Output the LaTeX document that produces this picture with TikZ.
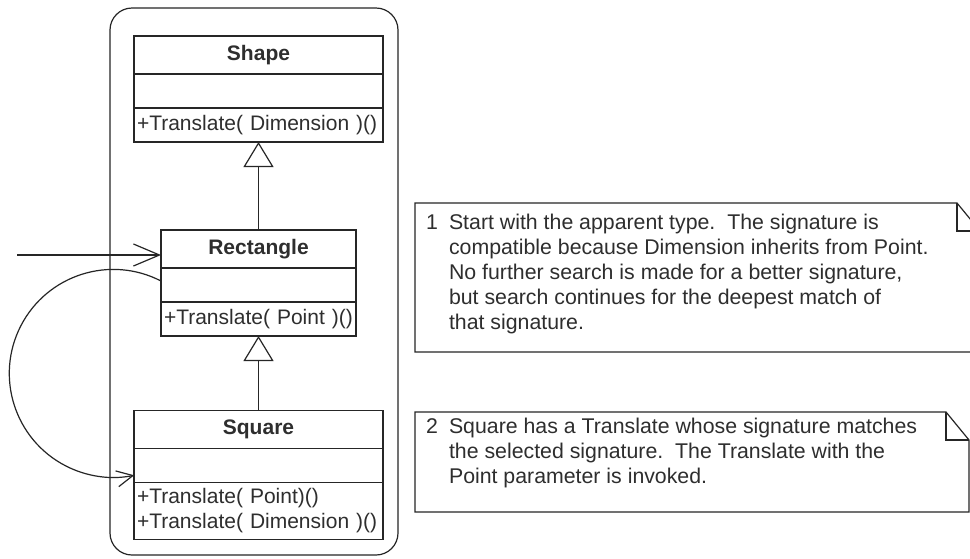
\documentclass[tikz,border=0pt]{standalone}
\usepackage{fontspec}
\setmainfont{Liberation Sans}
\usepackage{tikz}
\usetikzlibrary{arrows.meta,calc,positioning}
\usepackage{xcolor}
\definecolor{UmlInk}{HTML}{262626}
\definecolor{UmlText}{HTML}{2E2E2E}

\tikzset{
    classpart/.style={draw=UmlInk, line width=1.2pt, outer sep=0pt, inner sep=0pt, minimum width=249pt, text=UmlText},
    classname/.style={classpart, minimum height=38pt, font=\fontsize{21}{25}\selectfont\bfseries},
    classattr/.style={classpart, minimum height=34pt},
    classops/.style={classpart, minimum height=34pt, inner xsep=3pt, text width=243pt, align=left, font=\fontsize{21}{25}\selectfont},
    inherit/.style={draw=UmlInk, line width=1.2pt, -{Triangle[fill=white, length=25pt, width=30pt]}},
    call/.style={draw=UmlInk, line width=1.2pt, -{Straight Barb[length=26pt, width=22pt]}},
    recall/.style={draw=UmlInk, line width=1.2pt, -{Straight Barb[length=16pt, width=16pt]}},
    pkgframe/.style={draw=UmlInk, line width=1.2pt, rounded corners=22pt},
    notebox/.style={anchor=north west, inner sep=0pt, outer sep=0pt},
    noteline/.style={draw=UmlInk, line width=1.2pt},
    notetext/.style={anchor=base west, inner sep=0pt, text=UmlText, font=\fontsize{21.3}{25}\selectfont}
}

\begin{document}
\begin{tikzpicture}[x=1pt, y=1pt]
    \useasboundingbox (0,0) rectangle (970,-558);
    \fill[white] (0,0) rectangle (970,-558);

    \draw[pkgframe] (110,-8) rectangle (398,-555);

    \node[classname] (shape) at (258.5,-55) {Shape};
    \node[classattr, below=0pt of shape] (shape-attr) {};
    \node[classops, below=0pt of shape-attr] (shape-ops) {+Translate( Dimension )()};

    \node[classname, minimum width=195pt] (rect) at (258.5,-249) {Rectangle};
    \node[classattr, minimum width=195pt, below=0pt of rect] (rect-attr) {};
    \node[classops, minimum width=195pt, text width=189pt, below=0pt of rect-attr] (rect-ops) {+Translate( Point )()};

    \node[classname] (square) at (258.5,-429.5) {Square};
    \node[classattr, below=0pt of square] (square-attr) {};
    \node[classops, minimum height=57pt, below=0pt of square-attr] (square-ops) {+Translate( Point)()\\+Translate( Dimension )()};

    \draw[inherit] (rect.north) -- (shape-ops.south);
    \draw[inherit] (square.north) -- (rect-ops.south);

    \coordinate (caller) at (17,-255);
    \draw[call] (caller) -- (caller -| rect.west);
    \draw[recall] ($(rect-attr.west)+(0,4)$) arc[start angle=62.7, end angle=281.6, radius=104];

    \node[notebox, minimum width=565pt, minimum height=149pt] (note1) at (415,-203) {};
    \draw[noteline] ($(note1.north east)+(-23,0)$) -- (note1.north west) -- (note1.south west)
        -- (note1.south east) -- ($(note1.north east)+(0,-28)$) -- cycle;
    \draw[noteline] ($(note1.north east)+(-23,0)$) -- ++(0,-28) -- ($(note1.north east)+(0,-28)$);
    \node[notetext] (note1-text) at (426,-229) {\begin{tabular}[t]{@{}l@{\hspace{11pt}}l@{}}
        1 & Start with the apparent type.\ \ The signature is\\
          & compatible because Dimension inherits from Point.\\
          & No further search is made for a better signature,\\
          & but search continues for the deepest match of\\
          & that signature.
    \end{tabular}};

    \node[notebox, minimum width=554pt, minimum height=100pt] (note2) at (415,-412) {};
    \draw[noteline] ($(note2.north east)+(-23,0)$) -- (note2.north west) -- (note2.south west)
        -- (note2.south east) -- ($(note2.north east)+(0,-28)$) -- cycle;
    \draw[noteline] ($(note2.north east)+(-23,0)$) -- ++(0,-28) -- ($(note2.north east)+(0,-28)$);
    \node[notetext] (note2-text) at (426,-433) {\begin{tabular}[t]{@{}l@{\hspace{11pt}}l@{}}
        2 & Square has a Translate whose signature matches\\
          & the selected signature.\ \ The Translate with the\\
          & Point parameter is invoked.
    \end{tabular}};
\end{tikzpicture}
\end{document}
